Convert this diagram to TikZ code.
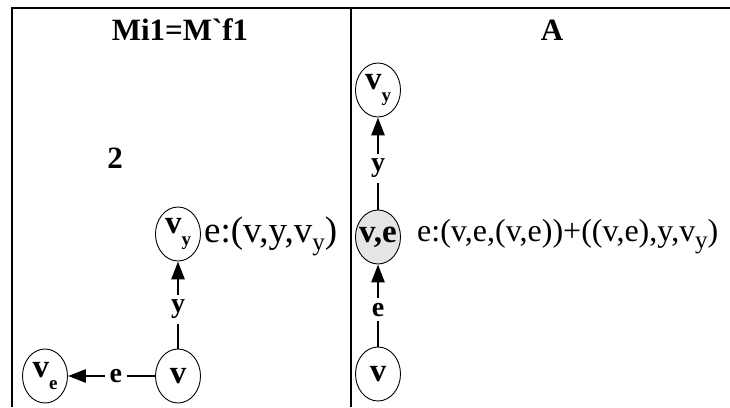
\documentclass[tikz,border=0pt]{standalone}
\usepackage{fontspec}
\setmainfont{Liberation Serif}
\usetikzlibrary{shapes.geometric,arrows.meta}

% fixed-width label inside a state ellipse
\newcommand\vlab[1]{\makebox[0pt][c]{#1}}
% lowered index for a state name
\newcommand\idx[1]{\raisebox{-0.38em}{\fontsize{19}{19}\selectfont #1}}
% lowered index in a transition formula
\newcommand\fidx[1]{\raisebox{-0.22em}{\fontsize{25}{25}\selectfont #1}}

\tikzset{
  frame/.style={line width=2.2pt},
  state/.style={draw, ellipse, line width=0.9pt, minimum width=45pt,
    minimum height=54pt, inner sep=0pt,
    font=\bfseries\fontsize{33}{33}\selectfont},
  active/.style={state, fill=black!10},
  trans/.style={line width=2.8pt, -{Triangle[length=18pt,width=13pt]}},
  elab/.style={fill=white, inner sep=5pt, pos=0.45,
    font=\bfseries\fontsize{28}{28}\selectfont},
  head/.style={font=\bfseries\fontsize{31}{31}\selectfont},
  formula/.style={anchor=west, inner sep=0pt}
}

\begin{document}
\begin{tikzpicture}[x=1pt,y=-1pt]
\useasboundingbox (0,0) rectangle (730,407);

% table frame
\draw[frame] (12,407) -- (12,8) -- (730,8);
\draw[frame] (351,8) -- (351,407);

% headers
\node[head] (hl) at (180,30) {Mi1=M\textasciigrave f1};
\node[head] (hr) at (552,30) {A};
\node[head] (num) at (115,158) {2};

% left column: transitions from v
\node[state] (vyL) at (178,234) {\vlab{v\idx{y}}};
\node[state] (vL)  at (178,376) {\vlab{v}};
\node[state] (veL) at (45,376)  {\vlab{v\idx{e}}};
\draw[trans] (vL) -- node[elab] {y} (vyL);
\draw[trans] (vL) -- node[elab] {e} (veL);
\node[formula, font=\fontsize{37}{37}\selectfont] (fL) at (204,236) {e:(v,y,v\fidx{y})};

% right column: merged state v,e
\node[state]  (vyR) at (378,90)  {\vlab{v\idx{y}}};
\node[active] (veR) at (378,237) {\vlab{v,e}};
\node[state]  (vR)  at (378,374) {\vlab{v}};
\draw[trans] (vR) -- node[elab] {e} (veR);
\draw[trans] (veR) -- node[elab] {y} (vyR);
\node[formula, font=\fontsize{32}{32}\selectfont] (fR) at (417,237) {e:(v,e,(v,e))+((v,e),y,v\fidx{y})};
\end{tikzpicture}
\end{document}
